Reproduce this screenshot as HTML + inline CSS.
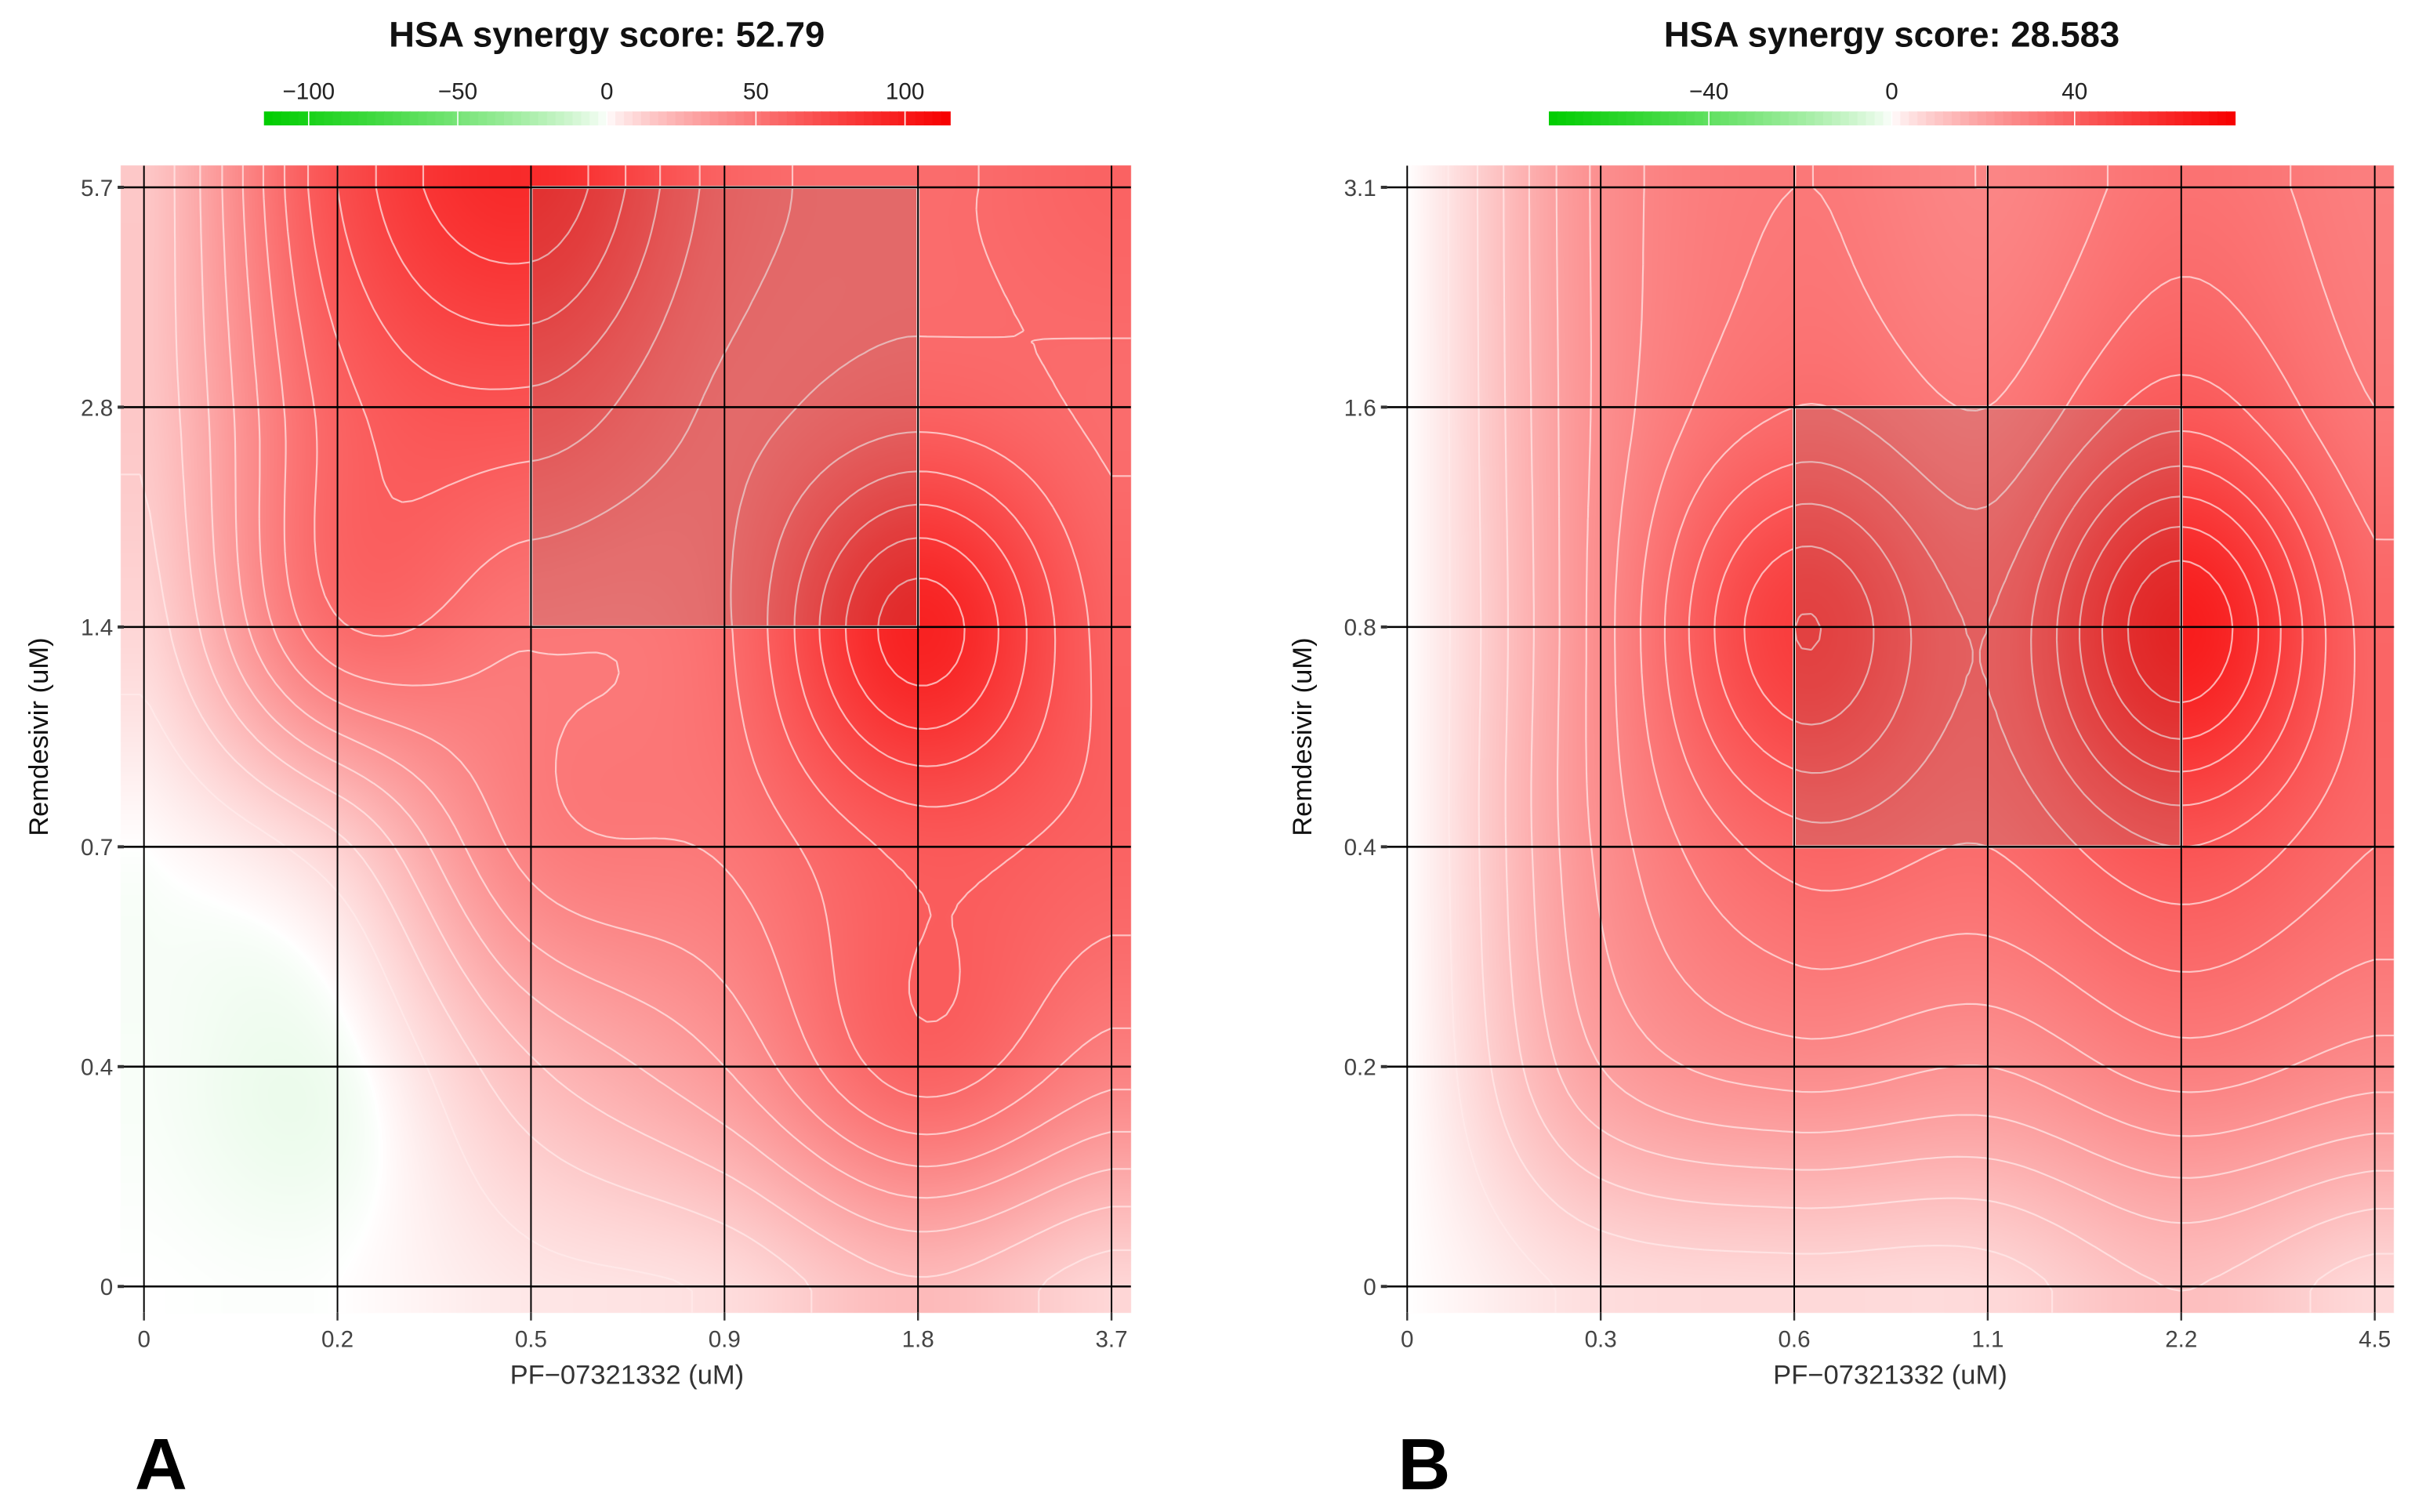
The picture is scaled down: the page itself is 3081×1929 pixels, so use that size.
<!DOCTYPE html>
<html><head><meta charset="utf-8">
<style>
html,body{margin:0;padding:0;background:#fff;}
#wrap{position:relative;width:3081px;height:1929px;overflow:hidden;}
canvas,svg{position:absolute;left:0;top:0;}
text{font-family:"Liberation Sans",sans-serif;}
</style></head>
<body>
<div id="wrap">
<canvas id="cv" width="3081" height="1929"></canvas>
<svg id="sv" width="3081" height="1929" viewBox="0 0 1560 976.7"></svg>
</div>
<script>
// ---- data (rows listed top -> bottom) ----
const xLabelsA = ["0","0.2","0.5","0.9","1.8","3.7"];
const yLabelsA = ["5.7","2.8","1.4","0.7","0.4","0"];
const valuesA = [
  [15, 70, 90, 60, 55, 60],
  [15, 60, 68, 55, 60, 55],
  [10, 55, 50, 55, 95, 60],
  [ 0, 12, 45, 50, 65, 60],
  [-1, -2, 20, 35, 60, 45],
  [ 0,  0,  5,  8, 20, 10]
];
const xLabelsB = ["0","0.3","0.6","1.1","2.2","4.5"];
const yLabelsB = ["3.1","1.6","0.8","0.4","0.2","0"];
const valuesB = [
  [0, 25, 32, 28, 34, 30],
  [0, 25, 36, 32, 42, 32],
  [0, 26, 52, 40, 64, 38],
  [0, 25, 38, 36, 44, 36],
  [0, 20, 26, 24, 30, 26],
  [0,  5,  6,  6, 12,  6]
];
const titleA = "HSA synergy score: 52.79";
const titleB = "HSA synergy score: 28.583";
const legendTicksA = [-100,-50,0,50,100];
const legendTicksB = [-40,0,40];
const legendMaxA = 115, legendMaxB = 75;
</script>
<script>
const S = 3081/1560;
const NS = "http://www.w3.org/2000/svg";
const svg = document.getElementById('sv');
const ctx = document.getElementById('cv').getContext('2d');
const panels = [
  {x0:93, vals:valuesA, xl:xLabelsA, yl:yLabelsA, title:titleA, ticks:legendTicksA, max:legendMaxA, box:[2,4,3,5], tcx:392, step:7, name:'a'},
  {x0:909, vals:valuesB, xl:xLabelsB, yl:yLabelsB, title:titleB, ticks:legendTicksB, max:legendMaxB, box:[2,4,2,4], tcx:1222, step:4, name:'b'}
];
const DX=125, DY=142, Y0=831;
function el(tag, attrs, parent){const e=document.createElementNS(NS,tag);for(const k in attrs)e.setAttribute(k,attrs[k]);(parent||svg).appendChild(e);return e;}
function cr(p0,p1,p2,p3,t){return 0.5*((2*p1)+(-p0+p2)*t+(2*p0-5*p1+4*p2-p3)*t*t+(-p0+3*p1-3*p2+p3)*t*t*t);}
function field(vals,u,v){
  const g=(i,j)=>{i=Math.max(0,Math.min(5,i));j=Math.max(0,Math.min(5,j));return vals[5-j][i];};
  u=Math.max(0,Math.min(5,u)); v=Math.max(0,Math.min(5,v));
  let i=Math.min(4,Math.floor(u)), j=Math.min(4,Math.floor(v));
  const tu=u-i, tv=v-j;
  const r=[];
  for(let k=-1;k<=2;k++) r.push(cr(g(i-1,j+k),g(i,j+k),g(i+1,j+k),g(i+2,j+k),tu));
  return cr(r[0],r[1],r[2],r[3],tv);
}
function color(val,max){
  let t=Math.max(-1,Math.min(1,val/max));
  const a=Math.pow(Math.abs(t),0.75);
  if(t>=0) return [255-8*a, 255*(1-a), 255*(1-a)];
  return [255*(1-a), 255-50*a, 255*(1-a)];
}
const img=ctx.createImageData(3081,1929);
for(let q=0;q<img.data.length;q+=4){img.data[q]=255;img.data[q+1]=255;img.data[q+2]=255;img.data[q+3]=255;}
panels.forEach(p=>{
  const L=p.x0-0.12*DX, R=p.x0+5.1*DX, T=107, B=848;
  const px0=Math.round(L*S), px1=Math.round(R*S), py0=Math.round(T*S), py1=Math.round(B*S);
  for(let py=py0;py<py1;py++){
    const v=(Y0-py/S)/DY;
    for(let px=px0;px<px1;px++){
      const u=(px/S-p.x0)/DX;
      const c=color(field(p.vals,u,v),p.max);
      const o=(py*3081+px)*4;
      img.data[o]=c[0];img.data[o+1]=c[1];img.data[o+2]=c[2];img.data[o+3]=255;
    }
  }
});
ctx.putImageData(img,0,0);
panels.forEach(p=>{
  const g=el('g',{});
  
  
  const n=104, us=-0.12, ue=5.1, vs=-0.12, ve=5.1;
  const F=[];
  for(let j=0;j<=n;j++){F.push([]);for(let i=0;i<=n;i++)F[j].push(field(p.vals,us+(ue-us)*i/n,vs+(ve-vs)*j/n));}
  const X=i=>p.x0+(us+(ue-us)*i/n)*DX, Yc=j=>Y0-(vs+(ve-vs)*j/n)*DY;
  let d='';
  for(let lev=p.step;lev<120;lev+=p.step){
    for(let j=0;j<n;j++)for(let i=0;i<n;i++){
      const a=F[j][i],b=F[j][i+1],c=F[j+1][i+1],e=F[j+1][i];
      const pts=[];
      const ed=(v1,v2,x1,y1,x2,y2)=>{if((v1<lev)!==(v2<lev)){const t=(lev-v1)/(v2-v1);pts.push([x1+(x2-x1)*t,y1+(y2-y1)*t]);}};
      ed(a,b,X(i),Yc(j),X(i+1),Yc(j));
      ed(b,c,X(i+1),Yc(j),X(i+1),Yc(j+1));
      ed(c,e,X(i+1),Yc(j+1),X(i),Yc(j+1));
      ed(e,a,X(i),Yc(j+1),X(i),Yc(j));
      for(let k=0;k+1<pts.length;k+=2) d+='M'+pts[k][0].toFixed(1)+' '+pts[k][1].toFixed(1)+'L'+pts[k+1][0].toFixed(1)+' '+pts[k+1][1].toFixed(1);
    }
  }
  const cp=el('path',{d:d,stroke:'rgba(255,235,235,0.7)','stroke-width':1.1,fill:'none'},g);
  
  
  const bx=el('rect',{x:p.x0+p.box[0]*DX,y:Y0-p.box[3]*DY,width:(p.box[1]-p.box[0])*DX,height:(p.box[3]-p.box[2])*DY,fill:'rgba(90,90,90,0.14)',stroke:'#f2dede','stroke-width':2},g);
  
  
  for(let k=0;k<6;k++){
    const x=p.x0+k*DX;
    const gl=el('line',{x1:x,x2:x,y1:107,y2:848,stroke:'#000','stroke-width':1},g);
    
    
    el('line',{x1:x,x2:x,y1:848,y2:853,stroke:'#333','stroke-width':1.2},g);
    const t=el('text',{x:x,y:870,'font-size':15,fill:'#444','text-anchor':'middle'},g);
    t.textContent=p.xl[k];
    
    
    const y=Y0-(5-k)*DY;
    const hl=el('line',{x1:p.x0-13,x2:p.x0+5.1*DX,y1:y,y2:y,stroke:'#000','stroke-width':1.3},g);
    
    
    el('line',{x1:p.x0-17,x2:p.x0-13,y1:y,y2:y,stroke:'#333','stroke-width':2},g);
    const ty=el('text',{x:p.x0-20,y:y+5.5,'font-size':15,fill:'#444','text-anchor':'end'},g);
    ty.textContent=p.yl[k];
    
    
  }
  const xt=el('text',{x:p.x0+312,y:894,'font-size':17.5,fill:'#333','text-anchor':'middle'},g);
  xt.textContent='PF\u221207321332 (uM)';
  
  
  const yt=el('text',{x:0,y:0,'font-size':17.5,fill:'#111','text-anchor':'middle',transform:'translate('+(p.x0-62)+',476) rotate(-90)'},g);
  yt.textContent='Remdesivir (uM)';
  
  
  const tt=el('text',{x:p.tcx,y:30,'font-size':23,'font-weight':'bold',fill:'#111','text-anchor':'middle'},g);
  tt.textContent=p.title;
  
  
  const lx0=p.tcx-221.5, lw=443, lg=el('g',{},g);
  
  
  const segs=80;
  for(let s=0;s<segs;s++){
    const val=-p.max+2*p.max*(s+0.5)/segs, c=color(val,p.max);
    el('rect',{x:lx0+lw*s/segs,y:72,width:lw/segs+0.6,height:9,fill:'rgb('+c.map(Math.round).join(',')+')'},lg);
  }
  p.ticks.forEach(tv=>{
    const x=lx0+lw*(tv+p.max)/(2*p.max);
    el('line',{x1:x,x2:x,y1:72,y2:81,stroke:'#fff','stroke-width':0.8},lg);
    const lt=el('text',{x:x,y:64,'font-size':15,fill:'#222','text-anchor':'middle'},lg);
    lt.textContent=(tv<0?'\u2212':'')+Math.abs(tv);
    
    
  });
  const pl=el('text',{x:p.x0-6,y:962,'font-size':47,'font-weight':'bold',fill:'#000'},g);
  pl.textContent=p.name.toUpperCase();
  
  
});
</script>
</body></html>
